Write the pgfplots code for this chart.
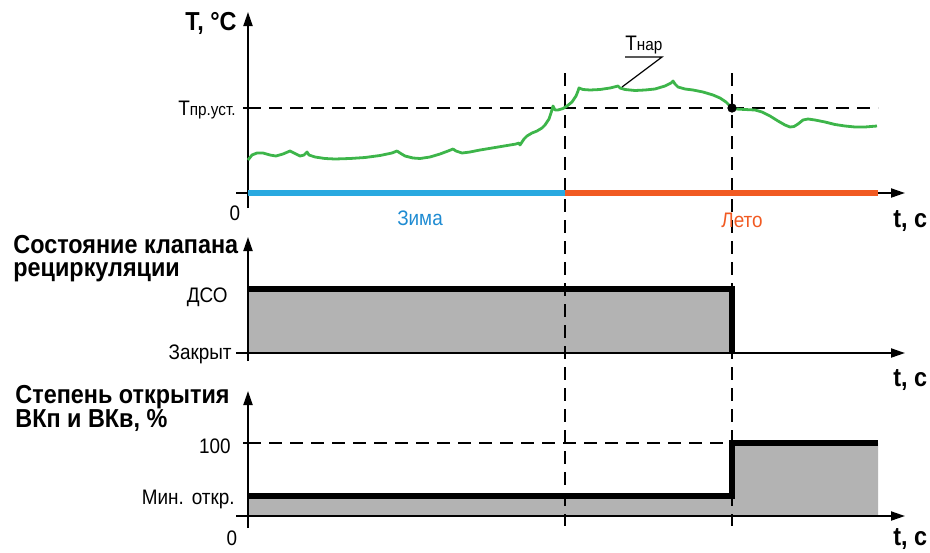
\documentclass[border=0pt]{standalone}
\usepackage{pgfplots}
\pgfplotsset{compat=1.18}
\usepackage{fontspec}
\setmainfont{Liberation Sans}[FakeStretch=0.9]
\usetikzlibrary{arrows.meta}
\definecolor{tgreen}{HTML}{3DB54A}
\definecolor{wblue}{HTML}{29A9E0}
\definecolor{wbluet}{HTML}{1E8BD2}
\definecolor{sorange}{HTML}{F15A22}
\definecolor{fillgray}{HTML}{B3B3B3}
\newcommand{\lab}{\fontsize{10.5}{12}\selectfont}
\newcommand{\slab}{\fontsize{8.5}{10}\selectfont}
\newcommand{\blab}{\fontsize{13}{15}\selectfont\bfseries}
\begin{document}
\begin{tikzpicture}
\path[use as bounding box] (0,0) rectangle (465pt,276pt);
\begin{axis}[at={(0pt,0pt)}, anchor=south west, scale only axis,
  width=465pt, height=276pt, xmin=0, xmax=930, ymin=0, ymax=552,
  y dir=reverse, hide axis, clip=false,
  axarrow/.style={black, line width=1pt, -{Triangle[length=7pt,width=4.5pt]}},
  dashln/.style={black, line width=0.65pt, dash pattern=on 6.5pt off 4pt},
  thickln/.style={black, line width=2.6pt, line join=miter}]
% fills
\addplot[fill=fillgray, draw=none] coordinates {(248,353)(248,289)(732,289)(732,353)} -- cycle;
\addplot[fill=fillgray, draw=none] coordinates {(248,516)(248,496)(732,496)(732,443)(878,443)(878,516)} -- cycle;
% dashed guides
\addplot[dashln] coordinates {(565,73)(565,526)};
\addplot[dashln] coordinates {(732,73)(732,526)};
\addplot[dashln] coordinates {(248,108)(878,108)};
\addplot[dashln] coordinates {(248,443)(732,443)};
% axes
\addplot[axarrow] coordinates {(248,208)(248,12)};
\addplot[axarrow] coordinates {(236,193)(905,193)};
\addplot[axarrow] coordinates {(248,361)(248,237)};
\addplot[axarrow] coordinates {(236,353)(905,353)};
\addplot[axarrow] coordinates {(248,528)(248,391)};
\addplot[axarrow] coordinates {(236,516)(905,516)};
\addplot[black, line width=1pt] coordinates {(243,108)(253,108)};
\addplot[black, line width=1pt] coordinates {(243,443)(253,443)};
% season bars
\addplot[wblue, line width=2.6pt] coordinates {(248,193)(565,193)};
\addplot[sorange, line width=2.6pt] coordinates {(565,193)(878,193)};
% valve state
\addplot[thickln] coordinates {(248,289)(732,289)(732,353)};
% damper opening
\addplot[thickln] coordinates {(248,496)(732,496)(732,443)(878,443)};
% outdoor temperature
\addplot[tgreen, line width=1.4pt, line join=round] coordinates {
(248,160)(252,155)(257,153)(263,153)(270,155)(276,156)(283,154)(290,151)
(294,153)(300,156)(304,155)(307,152)(309,155)(315,157)(325,158.5)(335,159)
(350,158.5)(365,157.5)(380,155.5)(392,153)(397,151)(400,153)(405,156)(413,158)
(420,158.5)(430,157)(440,154)(448,151)(453,149)(456,151)(462,153)(470,152)
(480,150)(495,147.5)(510,145)(516,144)(519,143)(520,145)(522,142)(524,139)
(527,136)(532,133)(537,131)(542,128)(545,125)(549,119)(551,113)(553,106)
(555,110)(558,110)(563,108.5)(567,106)(572,102)(576,96)(578,91)(579,88)
(583,89.5)(590,90)(600,89.5)(610,88)(618,86)(620,88)(625,89.5)(635,90.5)
(645,90)(655,89)(665,86)(671,83)(673,81)(675,84)(678,87)(685,89)(693,90)
(703,92)(713,95)(720,98)(726,102)(729,105)(732,108)(736,109)(745,109.5)
(755,110)(762,112)(770,116)(778,121)(785,125)(790,127)(794,126.5)(798,124)
(803,120)(808,119)(815,120)(825,122)(835,124.5)(845,126)(855,127)(865,127)(877,126)};
\addplot[only marks, mark=*, mark size=2.1pt, black] coordinates {(732,108)};
% leader for T nar
\addplot[black, line width=0.6pt] coordinates {(625,57)(662,57)(622,87)};
% labels
\node[anchor=base east, inner sep=0] at (axis cs:237,30) {\blab Т, °С};
\node[anchor=base east, inner sep=0] at (axis cs:236,115) {\lab Т\slab пр.уст.};
\node[anchor=base west, inner sep=0] at (axis cs:625,50) {\lab Т\slab нар};
\node[anchor=base, inner sep=0] at (axis cs:235,220) {\lab 0};
\node[anchor=base, inner sep=0, text=wbluet] at (axis cs:420,225) {\lab Зима};
\node[anchor=base, inner sep=0, text=sorange] at (axis cs:742,227) {\lab Лето};
\node[anchor=base west, inner sep=0] at (axis cs:893,227) {\blab t, c};
\node[anchor=base west, inner sep=0] at (axis cs:13,253) {\blab Состояние клапана};
\node[anchor=base west, inner sep=0] at (axis cs:13,276) {\blab рециркуляции};
\node[anchor=base east, inner sep=0] at (axis cs:228,302) {\lab ДСО};
\node[anchor=base east, inner sep=0] at (axis cs:232,359) {\lab Закрыт};
\node[anchor=base west, inner sep=0] at (axis cs:893,386) {\blab t, c};
\node[anchor=base west, inner sep=0] at (axis cs:15,403) {\blab Степень открытия};
\node[anchor=base west, inner sep=0] at (axis cs:15,427) {\blab ВКп и ВКв, \%};
\node[anchor=base east, inner sep=0] at (axis cs:231,453) {\lab 100};
\node[anchor=base east, inner sep=0] at (axis cs:235,504) {\lab Мин.\hspace{4pt}откр.};
\node[anchor=base, inner sep=0] at (axis cs:232,545) {\lab 0};
\node[anchor=base west, inner sep=0] at (axis cs:893,545) {\blab t, c};
\end{axis}
\end{tikzpicture}
\end{document}
